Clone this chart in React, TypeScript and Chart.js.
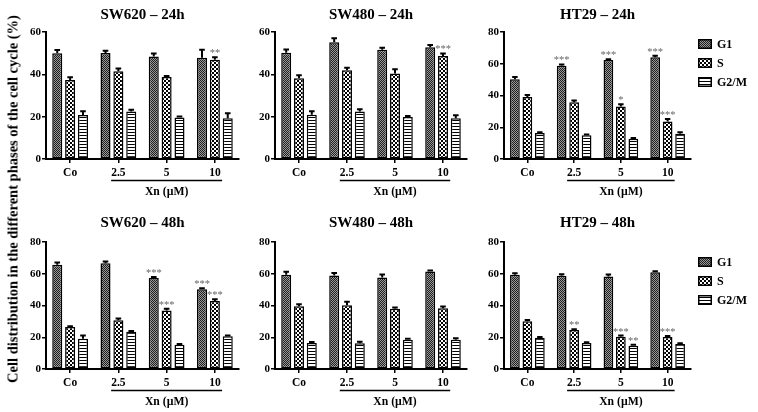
import React, { useEffect, useRef } from "react";
import { Chart, registerables } from "chart.js";

Chart.register(...registerables);

const FONT = '"Liberation Serif", "Times New Roman", serif';

// ---------- data ----------
const CATEGORIES = ["Co", "2.5", "5", "10"];
const PHASES = ["G1", "S", "G2/M"];
const X_GROUP_LABEL = "Xn (\u00b5M)";
const Y_LABEL = "Cell distribution in the different phases of the cell cycle (%)";
const TITLES = ["SW620 \u2013 24h", "SW480 \u2013 24h", "HT29 \u2013 24h", "SW620 \u2013 48h", "SW480 \u2013 48h", "HT29 \u2013 48h"];
const Y_MAX = [60, 60, 80, 80, 80, 80];

// SW620 – 24h
const SW620_24_G1 = [50, 50.1, 48.4, 47.8];
const SW620_24_G1_ERR = [1.5, 1, 1.4, 3.8];
const SW620_24_S = [37.3, 41.4, 38.7, 46.9];
const SW620_24_S_ERR = [1.3, 1.3, 0.5, 1.2];
const SW620_24_G2M = [20.8, 22.4, 19.6, 19.3];
const SW620_24_G2M_ERR = [1.8, 0.9, 0.5, 2.3];
const SW620_24_SIG_G1 = ["", "", "", ""];
const SW620_24_SIG_S = ["", "", "", "**"];
const SW620_24_SIG_G2M = ["", "", "", ""];

// SW480 – 24h
const SW480_24_G1 = [50.2, 55.1, 51.6, 52.8];
const SW480_24_G1_ERR = [1.5, 2, 1, 1];
const SW480_24_S = [38.2, 41.9, 40.4, 48.7];
const SW480_24_S_ERR = [1.4, 1.2, 2, 1.2];
const SW480_24_G2M = [20.9, 22.5, 19.9, 19.3];
const SW480_24_G2M_ERR = [1.7, 1, 0.4, 1.4];
const SW480_24_SIG_G1 = ["", "", "", ""];
const SW480_24_SIG_S = ["", "", "", "***"];
const SW480_24_SIG_G2M = ["", "", "", ""];

// HT29 – 24h
const HT29_24_G1 = [50.2, 58.8, 62.3, 64.1];
const HT29_24_G1_ERR = [1.5, 0.8, 0.6, 1];
const HT29_24_S = [39.1, 35.8, 33.1, 23.6];
const HT29_24_S_ERR = [1.2, 1.1, 1.4, 1.6];
const HT29_24_G2M = [16.3, 14.9, 12.7, 15.9];
const HT29_24_G2M_ERR = [0.5, 0.5, 0.6, 1];
const HT29_24_SIG_G1 = ["", "***", "***", "***"];
const HT29_24_SIG_S = ["", "", "*", "***"];
const HT29_24_SIG_G2M = ["", "", "", ""];

// SW620 – 48h
const SW620_48_G1 = [65.7, 66.6, 57.4, 50.3];
const SW620_48_G1_ERR = [1.4, 1.1, 0.6, 0.6];
const SW620_48_S = [26.4, 30.7, 36.9, 42.8];
const SW620_48_S_ERR = [0.6, 1.1, 1, 1.2];
const SW620_48_G2M = [19, 23.4, 15.2, 20.6];
const SW620_48_G2M_ERR = [2.1, 0.6, 0.5, 0.5];
const SW620_48_SIG_G1 = ["", "", "***", "***"];
const SW620_48_SIG_S = ["", "", "***", "***"];
const SW620_48_SIG_G2M = ["", "", "", ""];

// SW480 – 48h
const SW480_48_G1 = [59.3, 58.9, 57.7, 61.4];
const SW480_48_G1_ERR = [1.9, 1.6, 1.8, 0.7];
const SW480_48_S = [39.5, 40.1, 37.9, 38.3];
const SW480_48_S_ERR = [1.3, 2.3, 0.8, 1.1];
const SW480_48_G2M = [16.4, 16.2, 18.4, 18.4];
const SW480_48_G2M_ERR = [0.6, 1, 0.6, 0.9];
const SW480_48_SIG_G1 = ["", "", "", ""];
const SW480_48_SIG_S = ["", "", "", ""];
const SW480_48_SIG_G2M = ["", "", "", ""];

// HT29 – 48h
const HT29_48_G1 = [59.3, 58.7, 58.3, 60.9];
const HT29_48_G1_ERR = [1, 1, 1.2, 0.6];
const HT29_48_S = [30.1, 24.5, 20.3, 20.2];
const HT29_48_S_ERR = [0.8, 0.6, 0.8, 0.6];
const HT29_48_G2M = [19.7, 16.4, 14.6, 15.8];
const HT29_48_G2M_ERR = [0.4, 0.5, 0.6, 0.4];
const HT29_48_SIG_G1 = ["", "", "", ""];
const HT29_48_SIG_S = ["", "**", "***", "***"];
const HT29_48_SIG_G2M = ["", "", "**", ""];

// ---------- panel assembly ----------
const PANEL_VALUES = [
  [SW620_24_G1, SW620_24_S, SW620_24_G2M],
  [SW480_24_G1, SW480_24_S, SW480_24_G2M],
  [HT29_24_G1, HT29_24_S, HT29_24_G2M],
  [SW620_48_G1, SW620_48_S, SW620_48_G2M],
  [SW480_48_G1, SW480_48_S, SW480_48_G2M],
  [HT29_48_G1, HT29_48_S, HT29_48_G2M],
];
const PANEL_ERRORS = [
  [SW620_24_G1_ERR, SW620_24_S_ERR, SW620_24_G2M_ERR],
  [SW480_24_G1_ERR, SW480_24_S_ERR, SW480_24_G2M_ERR],
  [HT29_24_G1_ERR, HT29_24_S_ERR, HT29_24_G2M_ERR],
  [SW620_48_G1_ERR, SW620_48_S_ERR, SW620_48_G2M_ERR],
  [SW480_48_G1_ERR, SW480_48_S_ERR, SW480_48_G2M_ERR],
  [HT29_48_G1_ERR, HT29_48_S_ERR, HT29_48_G2M_ERR],
];
const PANEL_SIGS = [
  [SW620_24_SIG_G1, SW620_24_SIG_S, SW620_24_SIG_G2M],
  [SW480_24_SIG_G1, SW480_24_SIG_S, SW480_24_SIG_G2M],
  [HT29_24_SIG_G1, HT29_24_SIG_S, HT29_24_SIG_G2M],
  [SW620_48_SIG_G1, SW620_48_SIG_S, SW620_48_SIG_G2M],
  [SW480_48_SIG_G1, SW480_48_SIG_S, SW480_48_SIG_G2M],
  [HT29_48_SIG_G1, HT29_48_SIG_S, HT29_48_SIG_G2M],
];

// layout (positions / sizes)
const COLS = [
  { left: 16, width: 233, padRight: 10, legend: false },
  { left: 245, width: 232, padRight: 10, legend: false },
  { left: 474, width: 284, padRight: 67, legend: true },
];
const ROWS = [
  { top: 0, height: 207, xHeight: 48, titleTop: 6, titleBottom: 8, legendOffset: 12 },
  { top: 210, height: 201, xHeight: 42, titleTop: 4, titleBottom: 10, legendOffset: 20 },
];

// ---------- patterns ----------
function makePattern(kind: string): CanvasPattern | string {
  const c = document.createElement("canvas");
  let ctx: CanvasRenderingContext2D | null;
  if (kind === "G1") {
    c.width = 2; c.height = 2;
    ctx = c.getContext("2d")!;
    ctx.fillStyle = "#9a9a9a"; ctx.fillRect(0, 0, 2, 2);
    ctx.fillStyle = "#1e1e1e"; ctx.fillRect(0, 0, 1, 1); ctx.fillRect(1, 1, 1, 1);
  } else if (kind === "S") {
    c.width = 4; c.height = 4;
    ctx = c.getContext("2d")!;
    ctx.fillStyle = "#ffffff"; ctx.fillRect(0, 0, 4, 4);
    ctx.fillStyle = "#000000"; ctx.fillRect(0, 0, 2, 2); ctx.fillRect(2, 2, 2, 2);
  } else {
    c.width = 4; c.height = 3;
    ctx = c.getContext("2d")!;
    ctx.fillStyle = "#ffffff"; ctx.fillRect(0, 0, 4, 3);
    ctx.fillStyle = "#000000"; ctx.fillRect(0, 0, 4, 1);
  }
  const p = document.createElement("canvas").getContext("2d")!.createPattern(c, "repeat");
  return p || "#888";
}

// ---------- plugins ----------
const errorBarPlugin = {
  id: "errorBarsSig",
  afterDatasetsDraw(chart: any) {
    const { ctx } = chart;
    const yScale = chart.scales.y;
    chart.data.datasets.forEach((ds: any, di: number) => {
      const meta = chart.getDatasetMeta(di);
      meta.data.forEach((bar: any, i: number) => {
        const v = ds.data[i];
        const e = ds.errors[i];
        const yTop = yScale.getPixelForValue(v + e);
        const half = bar.width * 0.28;
        ctx.save();
        ctx.strokeStyle = "#000";
        ctx.lineWidth = 2;
        ctx.beginPath();
        ctx.moveTo(bar.x, bar.y);
        ctx.lineTo(bar.x, yTop);
        ctx.moveTo(bar.x - half, yTop);
        ctx.lineTo(bar.x + half, yTop);
        ctx.stroke();
        const s = ds.sig[i];
        if (s) {
          ctx.fillStyle = "#666";
          ctx.font = `10.5px ${FONT}`;
          ctx.textAlign = "center";
          ctx.textBaseline = "alphabetic";
          ctx.fillText(s, bar.x, yTop - 1);
        }
        ctx.restore();
      });
    });
  },
};

const groupLabelPlugin = {
  id: "groupLabel",
  afterDraw(chart: any) {
    const { ctx, chartArea } = chart;
    const x = chart.scales.x;
    const cw = x.getPixelForTick(1) - x.getPixelForTick(0);
    const x0 = x.getPixelForTick(1) - cw * 0.15;
    const x1 = x.getPixelForTick(3) + cw * 0.15;
    ctx.save();
    ctx.strokeStyle = "#000";
    ctx.lineWidth = 1.5;
    ctx.beginPath();
    ctx.moveTo(x0, chartArea.bottom + 21.5);
    ctx.lineTo(x1, chartArea.bottom + 21.5);
    ctx.stroke();
    ctx.fillStyle = "#000";
    ctx.font = `bold 11.7px ${FONT}`;
    ctx.textAlign = "center";
    ctx.textBaseline = "middle";
    ctx.fillText(X_GROUP_LABEL, (x0 + x1) / 2, chartArea.bottom + 32.5);
    ctx.restore();
  },
};

const phaseLegendPlugin = {
  id: "phaseLegend",
  afterDraw(chart: any, _args: any, opts: any) {
    if (!opts || !opts.show) return;
    const { ctx, chartArea } = chart;
    const bx = chartArea.right + 7;
    chart.data.datasets.forEach((ds: any, i: number) => {
      const cy = chartArea.top + opts.offset + i * 19;
      ctx.save();
      ctx.fillStyle = ds.backgroundColor;
      ctx.fillRect(bx, cy - 5, 14, 10);
      ctx.strokeStyle = "#000";
      ctx.lineWidth = 1.5;
      ctx.strokeRect(bx + 0.75, cy - 4.25, 12.5, 8.5);
      ctx.fillStyle = "#000";
      ctx.font = `bold 12px ${FONT}`;
      ctx.textAlign = "left";
      ctx.textBaseline = "middle";
      ctx.fillText(ds.label, bx + 19, cy + 0.5);
      ctx.restore();
    });
  },
};

// ---------- components ----------
function Panel({ index }: { index: number }) {
  const ref = useRef<HTMLCanvasElement | null>(null);
  const col = COLS[index % 3];
  const row = ROWS[Math.floor(index / 3)];

  useEffect(() => {
    if (!ref.current) return;
    const patterns = PHASES.map((p) => makePattern(p));
    const datasets = PHASES.map((p, k) => ({
      label: p,
      data: PANEL_VALUES[index][k],
      errors: PANEL_ERRORS[index][k],
      sig: PANEL_SIGS[index][k],
      backgroundColor: patterns[k],
      borderColor: "#000",
      borderWidth: 1.5,
      borderSkipped: false,
      categoryPercentage: 0.8,
      barPercentage: 0.78,
    }));
    const chart = new Chart(ref.current, {
      type: "bar",
      data: { labels: CATEGORIES, datasets: datasets as any },
      plugins: [errorBarPlugin, groupLabelPlugin, phaseLegendPlugin],
      options: {
        responsive: false,
        animation: false,
        layout: { padding: { left: 0, right: col.padRight, top: 0, bottom: 0 } },
        plugins: {
          legend: { display: false },
          tooltip: { enabled: false },
          title: {
            display: true,
            text: TITLES[index],
            fullSize: false,
            color: "#000",
            font: { family: FONT, size: 15, weight: "bold", lineHeight: 1.2 },
            padding: { top: row.titleTop, bottom: row.titleBottom },
          },
          phaseLegend: { show: col.legend, offset: row.legendOffset },
        } as any,
        scales: {
          x: {
            type: "category",
            afterFit: (s: any) => { s.height = row.xHeight; },
            grid: {
              display: true,
              drawOnChartArea: false,
              drawTicks: true,
              tickLength: 4,
              offset: false,
              color: "#000",
              lineWidth: 1.5,
            },
            border: { display: true, color: "#000", width: 2 },
            ticks: {
              color: "#000",
              padding: 3,
              maxRotation: 0,
              font: { family: FONT, size: 11.5, weight: "bold" },
            },
          },
          y: {
            min: 0,
            max: Y_MAX[index],
            afterFit: (s: any) => { s.width = 30; },
            grid: {
              display: true,
              drawOnChartArea: false,
              drawTicks: true,
              tickLength: 4,
              color: "#000",
              lineWidth: 1.5,
            },
            border: { display: true, color: "#000", width: 2 },
            ticks: {
              stepSize: 20,
              color: "#000",
              padding: 1,
              font: { family: FONT, size: 11, weight: "bold" },
            },
          },
        },
      } as any,
    });
    return () => chart.destroy();
  }, [index]);

  return (
    <div style={{ position: "absolute", left: col.left, top: row.top, width: col.width, height: row.height }}>
      <canvas ref={ref} width={col.width} height={row.height} style={{ display: "block", width: col.width, height: row.height }} />
    </div>
  );
}

export default function App() {
  return (
    <div style={{ position: "fixed", left: 0, top: 0, width: 758, height: 412, background: "#fff", overflow: "hidden" }}>
      {TITLES.map((_, i) => (
        <Panel key={i} index={i} />
      ))}
      <div
        style={{
          position: "absolute",
          left: 12.5,
          top: 198.5,
          width: 420,
          transform: "translate(-50%, -50%) rotate(-90deg)",
          textAlign: "center",
          whiteSpace: "nowrap",
          fontFamily: FONT,
          fontWeight: "bold",
          fontSize: "14.5px",
          color: "#000",
          zIndex: 2,
        }}
      >
        {Y_LABEL}
      </div>
    </div>
  );
}
